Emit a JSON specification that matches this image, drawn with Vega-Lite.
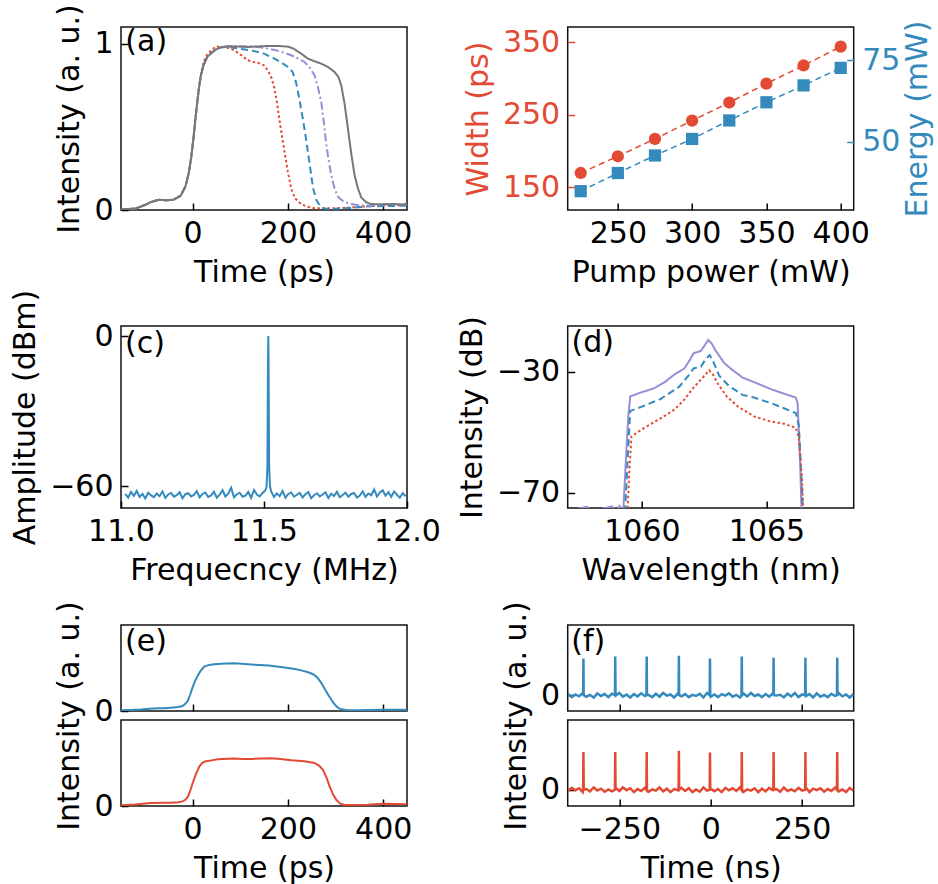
{
"$schema": "https://vega.github.io/schema/vega-lite/v6.json",
"background": "white",
"padding": {"left": 9, "top": 2, "right": 2, "bottom": 5},
"bounds": "flush",
"align": "each",
"columns": 2,
"spacing": {"row": 9, "column": 160.7},
"resolve": {"scale": {"color": "independent", "strokeDash": "independent"}},
"config": {
  "view": {"stroke": "#111", "strokeWidth": 1.5},
  "font": "DejaVu Sans",
  "axis": {"domain": false, "grid": false, "tickSize": -7, "tickWidth": 1.5, "tickColor": "#000", "labelPadding": 15, "labelFont": "DejaVu Sans", "labelFontSize": 30, "labelColor": "#000", "titleFont": "DejaVu Sans", "titleFontSize": 30, "titleFontWeight": "normal", "titleColor": "#000", "titlePadding": 9, "labelFlush": false, "labelOverlap": false},
  "text": {"font": "DejaVu Sans", "fontSize": 30, "color": "#000"}
},
"datasets": {
  "a": [
    {"t":-150,"v":0.005,"s":"r"},{"t":-120,"v":0.008,"s":"r"},{"t":-100,"v":0.03,"s":"r"},{"t":-85,"v":0.05,"s":"r"},{"t":-70,"v":0.062,"s":"r"},{"t":-55,"v":0.058,"s":"r"},{"t":-40,"v":0.062,"s":"r"},{"t":-25,"v":0.085,"s":"r"},{"t":-15,"v":0.14,"s":"r"},{"t":-8,"v":0.22,"s":"r"},{"t":-3,"v":0.31,"s":"r"},{"t":2,"v":0.43,"s":"r"},{"t":7,"v":0.57,"s":"r"},{"t":12,"v":0.7,"s":"r"},{"t":17,"v":0.8,"s":"r"},{"t":23,"v":0.89,"s":"r"},{"t":31,"v":0.935,"s":"r"},{"t":40,"v":0.96,"s":"r"},{"t":49,"v":0.984,"s":"r"},{"t":60,"v":0.98,"s":"r"},{"t":74,"v":0.975,"s":"r"},{"t":88,"v":0.96,"s":"r"},{"t":100,"v":0.935,"s":"r"},{"t":116,"v":0.9,"s":"r"},{"t":128,"v":0.89,"s":"r"},{"t":137,"v":0.885,"s":"r"},{"t":150,"v":0.87,"s":"r"},{"t":158,"v":0.84,"s":"r"},{"t":165,"v":0.8,"s":"r"},{"t":172,"v":0.73,"s":"r"},{"t":177,"v":0.65,"s":"r"},{"t":182,"v":0.55,"s":"r"},{"t":188,"v":0.44,"s":"r"},{"t":193,"v":0.35,"s":"r"},{"t":200,"v":0.23,"s":"r"},{"t":207,"v":0.13,"s":"r"},{"t":215,"v":0.07,"s":"r"},{"t":228,"v":0.036,"s":"r"},{"t":240,"v":0.02,"s":"r"},{"t":256,"v":0.01,"s":"r"},{"t":298,"v":0.01,"s":"r"},{"t":330,"v":0.015,"s":"r"},{"t":368,"v":0.022,"s":"r"},{"t":410,"v":0.028,"s":"r"},{"t":450,"v":0.03,"s":"r"},
    {"t":-150,"v":0.005,"s":"b"},{"t":-120,"v":0.008,"s":"b"},{"t":-100,"v":0.03,"s":"b"},{"t":-85,"v":0.05,"s":"b"},{"t":-70,"v":0.062,"s":"b"},{"t":-55,"v":0.058,"s":"b"},{"t":-40,"v":0.062,"s":"b"},{"t":-25,"v":0.085,"s":"b"},{"t":-15,"v":0.14,"s":"b"},{"t":-8,"v":0.22,"s":"b"},{"t":-3,"v":0.31,"s":"b"},{"t":2,"v":0.43,"s":"b"},{"t":7,"v":0.57,"s":"b"},{"t":12,"v":0.7,"s":"b"},{"t":17,"v":0.8,"s":"b"},{"t":23,"v":0.87,"s":"b"},{"t":31,"v":0.92,"s":"b"},{"t":40,"v":0.945,"s":"b"},{"t":49,"v":0.965,"s":"b"},{"t":60,"v":0.978,"s":"b"},{"t":74,"v":0.98,"s":"b"},{"t":88,"v":0.974,"s":"b"},{"t":110,"v":0.965,"s":"b"},{"t":130,"v":0.955,"s":"b"},{"t":150,"v":0.94,"s":"b"},{"t":172,"v":0.91,"s":"b"},{"t":190,"v":0.88,"s":"b"},{"t":200,"v":0.86,"s":"b"},{"t":210,"v":0.83,"s":"b"},{"t":217,"v":0.77,"s":"b"},{"t":222,"v":0.7,"s":"b"},{"t":227,"v":0.62,"s":"b"},{"t":232,"v":0.54,"s":"b"},{"t":237,"v":0.45,"s":"b"},{"t":242,"v":0.35,"s":"b"},{"t":248,"v":0.23,"s":"b"},{"t":253,"v":0.13,"s":"b"},{"t":260,"v":0.06,"s":"b"},{"t":267,"v":0.026,"s":"b"},{"t":275,"v":0.01,"s":"b"},{"t":284,"v":0.006,"s":"b"},{"t":333,"v":0.012,"s":"b"},{"t":368,"v":0.022,"s":"b"},{"t":410,"v":0.024,"s":"b"},{"t":450,"v":0.026,"s":"b"},
    {"t":-150,"v":0.005,"s":"p"},{"t":-120,"v":0.008,"s":"p"},{"t":-100,"v":0.03,"s":"p"},{"t":-85,"v":0.05,"s":"p"},{"t":-70,"v":0.062,"s":"p"},{"t":-55,"v":0.058,"s":"p"},{"t":-40,"v":0.062,"s":"p"},{"t":-25,"v":0.085,"s":"p"},{"t":-15,"v":0.14,"s":"p"},{"t":-8,"v":0.22,"s":"p"},{"t":-3,"v":0.31,"s":"p"},{"t":2,"v":0.43,"s":"p"},{"t":7,"v":0.57,"s":"p"},{"t":12,"v":0.7,"s":"p"},{"t":17,"v":0.8,"s":"p"},{"t":23,"v":0.87,"s":"p"},{"t":31,"v":0.92,"s":"p"},{"t":40,"v":0.945,"s":"p"},{"t":49,"v":0.965,"s":"p"},{"t":60,"v":0.978,"s":"p"},{"t":74,"v":0.984,"s":"p"},{"t":100,"v":0.984,"s":"p"},{"t":130,"v":0.982,"s":"p"},{"t":150,"v":0.975,"s":"p"},{"t":172,"v":0.962,"s":"p"},{"t":190,"v":0.948,"s":"p"},{"t":207,"v":0.93,"s":"p"},{"t":222,"v":0.91,"s":"p"},{"t":235,"v":0.89,"s":"p"},{"t":245,"v":0.86,"s":"p"},{"t":256,"v":0.81,"s":"p"},{"t":263,"v":0.74,"s":"p"},{"t":270,"v":0.65,"s":"p"},{"t":275,"v":0.54,"s":"p"},{"t":280,"v":0.41,"s":"p"},{"t":285,"v":0.31,"s":"p"},{"t":291,"v":0.21,"s":"p"},{"t":298,"v":0.13,"s":"p"},{"t":305,"v":0.08,"s":"p"},{"t":315,"v":0.055,"s":"p"},{"t":326,"v":0.04,"s":"p"},{"t":345,"v":0.03,"s":"p"},{"t":368,"v":0.026,"s":"p"},{"t":390,"v":0.03,"s":"p"},{"t":410,"v":0.036,"s":"p"},{"t":430,"v":0.033,"s":"p"},{"t":450,"v":0.03,"s":"p"},
    {"t":-150,"v":0.005,"s":"g"},{"t":-120,"v":0.008,"s":"g"},{"t":-100,"v":0.03,"s":"g"},{"t":-85,"v":0.05,"s":"g"},{"t":-70,"v":0.062,"s":"g"},{"t":-55,"v":0.058,"s":"g"},{"t":-40,"v":0.062,"s":"g"},{"t":-25,"v":0.085,"s":"g"},{"t":-15,"v":0.14,"s":"g"},{"t":-8,"v":0.22,"s":"g"},{"t":-3,"v":0.31,"s":"g"},{"t":2,"v":0.43,"s":"g"},{"t":7,"v":0.57,"s":"g"},{"t":12,"v":0.7,"s":"g"},{"t":17,"v":0.8,"s":"g"},{"t":23,"v":0.87,"s":"g"},{"t":31,"v":0.92,"s":"g"},{"t":40,"v":0.945,"s":"g"},{"t":49,"v":0.965,"s":"g"},{"t":60,"v":0.978,"s":"g"},{"t":74,"v":0.984,"s":"g"},{"t":95,"v":0.983,"s":"g"},{"t":116,"v":0.98,"s":"g"},{"t":135,"v":0.983,"s":"g"},{"t":158,"v":0.986,"s":"g"},{"t":180,"v":0.986,"s":"g"},{"t":200,"v":0.982,"s":"g"},{"t":212,"v":0.97,"s":"g"},{"t":228,"v":0.94,"s":"g"},{"t":242,"v":0.91,"s":"g"},{"t":256,"v":0.894,"s":"g"},{"t":270,"v":0.88,"s":"g"},{"t":284,"v":0.86,"s":"g"},{"t":298,"v":0.83,"s":"g"},{"t":306,"v":0.8,"s":"g"},{"t":312,"v":0.75,"s":"g"},{"t":319,"v":0.64,"s":"g"},{"t":326,"v":0.49,"s":"g"},{"t":333,"v":0.34,"s":"g"},{"t":340,"v":0.21,"s":"g"},{"t":347,"v":0.13,"s":"g"},{"t":354,"v":0.076,"s":"g"},{"t":365,"v":0.045,"s":"g"},{"t":375,"v":0.036,"s":"g"},{"t":390,"v":0.034,"s":"g"},{"t":403,"v":0.034,"s":"g"},{"t":424,"v":0.036,"s":"g"},{"t":440,"v":0.032,"s":"g"},{"t":450,"v":0.038,"s":"g"}
  ],
  "b": [
    {"p":225,"w":170,"e":34.7},{"p":250,"w":193,"e":40.3},{"p":275,"w":217,"e":45.7},{"p":300,"w":242,"e":50.8},{"p":325,"w":267,"e":56.5},{"p":350,"w":293,"e":62.1},{"p":375,"w":318,"e":67.3},{"p":400,"w":344,"e":72.7}
  ],
  "c": [
    {"f":11.015,"a":-63.0},{"f":11.025,"a":-64.5},{"f":11.035,"a":-62.2},{"f":11.045,"a":-63.8},{"f":11.055,"a":-61.8},{"f":11.065,"a":-64.2},{"f":11.075,"a":-63.0},{"f":11.085,"a":-64.8},{"f":11.095,"a":-62.5},{"f":11.105,"a":-63.6},
    {"f":11.115,"a":-64.3},{"f":11.125,"a":-62.8},{"f":11.135,"a":-63.9},{"f":11.145,"a":-62.0},{"f":11.155,"a":-64.6},{"f":11.165,"a":-63.2},{"f":11.175,"a":-62.6},{"f":11.185,"a":-64.1},{"f":11.195,"a":-63.5},{"f":11.205,"a":-62.3},
    {"f":11.215,"a":-64.7},{"f":11.225,"a":-63.1},{"f":11.235,"a":-62.7},{"f":11.245,"a":-64.0},{"f":11.255,"a":-63.4},{"f":11.265,"a":-61.9},{"f":11.275,"a":-64.4},{"f":11.285,"a":-63.0},{"f":11.295,"a":-62.4},{"f":11.305,"a":-64.2},
    {"f":11.315,"a":-63.6},{"f":11.325,"a":-62.1},{"f":11.335,"a":-64.5},{"f":11.345,"a":-63.3},{"f":11.355,"a":-61.5},{"f":11.365,"a":-64.0},{"f":11.375,"a":-62.9},{"f":11.385,"a":-60.5},{"f":11.395,"a":-64.3},{"f":11.405,"a":-63.1},
    {"f":11.415,"a":-62.5},{"f":11.425,"a":-64.1},{"f":11.435,"a":-63.7},{"f":11.445,"a":-62.2},{"f":11.455,"a":-64.6},{"f":11.465,"a":-61.4},{"f":11.475,"a":-63.2},{"f":11.485,"a":-64.0},{"f":11.495,"a":-62.6},{"f":11.505,"a":-61.5},
    {"f":11.509,"a":-60.0},{"f":11.512,"a":-52},{"f":11.514,"a":-10},{"f":11.515,"a":0},{"f":11.516,"a":-10},{"f":11.518,"a":-52},{"f":11.521,"a":-60},
    {"f":11.525,"a":-62.0},{"f":11.535,"a":-64.2},{"f":11.545,"a":-62.8},{"f":11.555,"a":-63.9},{"f":11.565,"a":-61.8},{"f":11.575,"a":-64.5},{"f":11.585,"a":-63.0},{"f":11.595,"a":-62.4},{"f":11.605,"a":-64.1},{"f":11.615,"a":-63.3},
    {"f":11.625,"a":-62.6},{"f":11.635,"a":-64.4},{"f":11.645,"a":-63.1},{"f":11.655,"a":-62.2},{"f":11.665,"a":-64.7},{"f":11.675,"a":-63.5},{"f":11.685,"a":-62.7},{"f":11.695,"a":-64.0},{"f":11.705,"a":-63.2},{"f":11.715,"a":-62.3},
    {"f":11.725,"a":-64.6},{"f":11.735,"a":-62.9},{"f":11.745,"a":-63.8},{"f":11.755,"a":-62.1},{"f":11.765,"a":-64.3},{"f":11.775,"a":-63.4},{"f":11.785,"a":-62.5},{"f":11.795,"a":-64.1},{"f":11.805,"a":-63.0},{"f":11.815,"a":-62.6},
    {"f":11.825,"a":-64.4},{"f":11.835,"a":-63.6},{"f":11.845,"a":-62.0},{"f":11.855,"a":-64.2},{"f":11.865,"a":-62.8},{"f":11.875,"a":-63.5},{"f":11.885,"a":-61.2},{"f":11.895,"a":-64.0},{"f":11.905,"a":-62.4},{"f":11.915,"a":-61.5},
    {"f":11.925,"a":-63.7},{"f":11.935,"a":-62.3},{"f":11.945,"a":-64.1},{"f":11.955,"a":-62.0},{"f":11.965,"a":-63.3},{"f":11.975,"a":-64.5},{"f":11.985,"a":-62.7},{"f":11.995,"a":-63.9}
  ],
  "d": [
    {"w":1057.0,"i":-76,"s":"p"},{"w":1057.8,"i":-74.6,"s":"p"},{"w":1058.0,"i":-76,"s":"p"},{"w":1058.8,"i":-74.5,"s":"p"},{"w":1059.0,"i":-76,"s":"p"},{"w":1059.1,"i":-74.3,"s":"p"},{"w":1059.25,"i":-76,"s":"p"},{"w":1059.35,"i":-60,"s":"p"},{"w":1059.45,"i":-45,"s":"p"},{"w":1059.53,"i":-38.2,"s":"p"},{"w":1060.0,"i":-36.8,"s":"p"},{"w":1060.5,"i":-35.5,"s":"p"},{"w":1060.9,"i":-33.6,"s":"p"},{"w":1061.3,"i":-31.0,"s":"p"},{"w":1061.7,"i":-29.0,"s":"p"},{"w":1061.9,"i":-26.5,"s":"p"},{"w":1062.07,"i":-24.0,"s":"p"},{"w":1062.37,"i":-23.2,"s":"p"},{"w":1062.55,"i":-21.0,"s":"p"},{"w":1062.66,"i":-19.6,"s":"p"},{"w":1062.8,"i":-20.8,"s":"p"},{"w":1062.95,"i":-23.0,"s":"p"},{"w":1063.3,"i":-27.2,"s":"p"},{"w":1063.6,"i":-29.3,"s":"p"},{"w":1064.04,"i":-32.0,"s":"p"},{"w":1064.5,"i":-33.5,"s":"p"},{"w":1065.17,"i":-35.8,"s":"p"},{"w":1065.7,"i":-37.3,"s":"p"},{"w":1066.18,"i":-38.6,"s":"p"},{"w":1066.25,"i":-40.5,"s":"p"},{"w":1066.35,"i":-60,"s":"p"},{"w":1066.42,"i":-80,"s":"p"},
    {"w":1059.3,"i":-80,"s":"b"},{"w":1059.42,"i":-60,"s":"b"},{"w":1059.53,"i":-43.0,"s":"b"},{"w":1060.0,"i":-41.6,"s":"b"},{"w":1060.76,"i":-39.0,"s":"b"},{"w":1061.5,"i":-35.0,"s":"b"},{"w":1061.9,"i":-31.0,"s":"b"},{"w":1062.07,"i":-29.0,"s":"b"},{"w":1062.37,"i":-28.4,"s":"b"},{"w":1062.55,"i":-26.0,"s":"b"},{"w":1062.72,"i":-24.6,"s":"b"},{"w":1062.85,"i":-26.5,"s":"b"},{"w":1063.1,"i":-31.4,"s":"b"},{"w":1063.5,"i":-34.8,"s":"b"},{"w":1064.04,"i":-37.7,"s":"b"},{"w":1064.5,"i":-38.6,"s":"b"},{"w":1065.17,"i":-40.4,"s":"b"},{"w":1065.7,"i":-42.1,"s":"b"},{"w":1066.18,"i":-43.7,"s":"b"},{"w":1066.3,"i":-48,"s":"b"},{"w":1066.4,"i":-65,"s":"b"},{"w":1066.48,"i":-80,"s":"b"},
    {"w":1059.4,"i":-80,"s":"r"},{"w":1059.5,"i":-62,"s":"r"},{"w":1059.58,"i":-51.4,"s":"r"},{"w":1060.09,"i":-48.6,"s":"r"},{"w":1060.76,"i":-45.4,"s":"r"},{"w":1061.3,"i":-42.6,"s":"r"},{"w":1061.7,"i":-39.3,"s":"r"},{"w":1062.0,"i":-36.0,"s":"r"},{"w":1062.24,"i":-33.8,"s":"r"},{"w":1062.5,"i":-31.5,"s":"r"},{"w":1062.7,"i":-29.6,"s":"r"},{"w":1062.85,"i":-31.0,"s":"r"},{"w":1063.03,"i":-33.8,"s":"r"},{"w":1063.4,"i":-38.2,"s":"r"},{"w":1063.84,"i":-41.5,"s":"r"},{"w":1064.5,"i":-44.8,"s":"r"},{"w":1065.17,"i":-46.5,"s":"r"},{"w":1065.7,"i":-47.2,"s":"r"},{"w":1066.18,"i":-48.6,"s":"r"},{"w":1066.3,"i":-52,"s":"r"},{"w":1066.42,"i":-65,"s":"r"},{"w":1066.5,"i":-80,"s":"r"}
  ],
  "e1": [
    {"t":-150,"v":0.014},{"t":-130,"v":0.02},{"t":-108,"v":0.03},{"t":-90,"v":0.045},{"t":-73,"v":0.056},{"t":-60,"v":0.058},{"t":-45,"v":0.07},{"t":-30,"v":0.085},{"t":-21,"v":0.105},{"t":-15,"v":0.15},{"t":-10,"v":0.21},{"t":-5,"v":0.34},{"t":0,"v":0.49},{"t":5,"v":0.62},{"t":10.5,"v":0.73},{"t":17,"v":0.84},{"t":24.6,"v":0.93},{"t":35,"v":0.965},{"t":45.6,"v":0.98},{"t":60,"v":0.99},{"t":87.7,"v":1.0},{"t":110,"v":0.985},{"t":130,"v":0.97},{"t":160,"v":0.95},{"t":193,"v":0.91},{"t":215,"v":0.88},{"t":228,"v":0.85},{"t":243,"v":0.81},{"t":253,"v":0.77},{"t":262,"v":0.7},{"t":270,"v":0.59},{"t":277,"v":0.47},{"t":284,"v":0.35},{"t":291,"v":0.24},{"t":298,"v":0.14},{"t":305,"v":0.07},{"t":312,"v":0.035},{"t":326,"v":0.014},{"t":345,"v":0.016},{"t":368,"v":0.02},{"t":400,"v":0.024},{"t":430,"v":0.026},{"t":450,"v":0.028}
  ],
  "e2": [
    {"t":-150,"v":0.014},{"t":-120,"v":0.03},{"t":-88,"v":0.062},{"t":-60,"v":0.066},{"t":-45,"v":0.069},{"t":-30,"v":0.08},{"t":-21,"v":0.097},{"t":-15,"v":0.13},{"t":-10,"v":0.19},{"t":-5,"v":0.31},{"t":0,"v":0.47},{"t":7,"v":0.66},{"t":14,"v":0.82},{"t":20,"v":0.9},{"t":26,"v":0.93},{"t":40,"v":0.955},{"t":52.6,"v":0.976},{"t":87.7,"v":0.995},{"t":105,"v":0.985},{"t":122.8,"v":0.983},{"t":145,"v":0.995},{"t":165,"v":1.0},{"t":185,"v":0.985},{"t":207,"v":0.96},{"t":235,"v":0.935},{"t":256,"v":0.9},{"t":266,"v":0.84},{"t":274,"v":0.75},{"t":281,"v":0.6},{"t":288,"v":0.4},{"t":295,"v":0.24},{"t":302,"v":0.125},{"t":310,"v":0.05},{"t":319,"v":0.02},{"t":340,"v":0.022},{"t":368,"v":0.028},{"t":390,"v":0.04},{"t":403,"v":0.048},{"t":425,"v":0.04},{"t":450,"v":0.035}
  ],
  "f1": [
    {"t":-390,"v":0.04},{"t":-380,"v":-0.05},{"t":-370,"v":0.02},{"t":-360,"v":-0.03},{"t":-350,"v":0.06},{"t":-340,"v":-0.04},{"t":-330,"v":0.01},{"t":-320,"v":-0.06},{"t":-310,"v":0.05},{"t":-300,"v":-0.02},
    {"t":-290,"v":0.03},{"t":-280,"v":-0.05},{"t":-270,"v":0.04},{"t":-260,"v":-0.01},{"t":-250,"v":0.06},{"t":-240,"v":-0.04},{"t":-230,"v":0.02},{"t":-220,"v":-0.06},{"t":-210,"v":0.03},{"t":-200,"v":-0.03},
    {"t":-190,"v":0.05},{"t":-180,"v":-0.02},{"t":-170,"v":0.01},{"t":-160,"v":-0.05},{"t":-150,"v":0.04},{"t":-140,"v":-0.04},{"t":-130,"v":0.06},{"t":-120,"v":-0.01},{"t":-110,"v":0.02},{"t":-100,"v":-0.06},
    {"t":-90,"v":0.05},{"t":-80,"v":-0.03},{"t":-70,"v":0.03},{"t":-60,"v":-0.05},{"t":-50,"v":0.01},{"t":-40,"v":-0.02},{"t":-30,"v":0.04},{"t":-20,"v":-0.06},{"t":-10,"v":0.06},{"t":0,"v":-0.04},
    {"t":10,"v":0.02},{"t":20,"v":-0.05},{"t":30,"v":0.03},{"t":40,"v":-0.01},{"t":50,"v":0.05},{"t":60,"v":-0.04},{"t":70,"v":0.01},{"t":80,"v":-0.06},{"t":90,"v":0.04},{"t":100,"v":-0.03},
    {"t":110,"v":0.06},{"t":120,"v":-0.02},{"t":130,"v":0.02},{"t":140,"v":-0.05},{"t":150,"v":0.03},{"t":160,"v":-0.04},{"t":170,"v":0.05},{"t":180,"v":-0.01},{"t":190,"v":0.01},{"t":200,"v":-0.06},
    {"t":210,"v":0.04},{"t":220,"v":-0.03},{"t":230,"v":0.06},{"t":240,"v":-0.05},{"t":250,"v":0.02},{"t":260,"v":-0.02},{"t":270,"v":0.03},{"t":280,"v":-0.06},{"t":290,"v":0.05},{"t":300,"v":-0.04},
    {"t":310,"v":0.01},{"t":320,"v":-0.05},{"t":330,"v":0.04},{"t":340,"v":-0.02},{"t":350,"v":0.06},{"t":360,"v":-0.03},{"t":370,"v":0.02},{"t":380,"v":-0.06},{"t":390,"v":0.03},
    {"t":-348.8,"v":0},{"t":-348,"v":0.98},{"t":-347.2,"v":0},{"t":-261.8,"v":0},{"t":-261,"v":1.03},{"t":-260.2,"v":0},{"t":-175.8,"v":0},{"t":-175,"v":1.03},{"t":-174.2,"v":0},{"t":-87.8,"v":0},{"t":-87,"v":1.05},{"t":-86.2,"v":0},{"t":-2.8,"v":0},{"t":-2,"v":0.98},{"t":-1.2,"v":0},{"t":84.2,"v":0},{"t":85,"v":1.03},{"t":85.8,"v":0},{"t":171.2,"v":0},{"t":172,"v":1.0},{"t":172.8,"v":0},{"t":258.2,"v":0},{"t":259,"v":1.0},{"t":259.8,"v":0},{"t":345.2,"v":0},{"t":346,"v":1.0},{"t":346.8,"v":0}
  ],
  "f2": [
    {"t":-390,"v":-0.03},{"t":-380,"v":0.05},{"t":-370,"v":-0.01},{"t":-360,"v":0.04},{"t":-350,"v":-0.06},{"t":-340,"v":0.02},{"t":-330,"v":-0.04},{"t":-320,"v":0.06},{"t":-310,"v":-0.02},{"t":-300,"v":0.03},
    {"t":-290,"v":-0.05},{"t":-280,"v":0.01},{"t":-270,"v":-0.04},{"t":-260,"v":0.05},{"t":-250,"v":-0.03},{"t":-240,"v":0.06},{"t":-230,"v":-0.01},{"t":-220,"v":0.04},{"t":-210,"v":-0.06},{"t":-200,"v":0.02},
    {"t":-190,"v":-0.03},{"t":-180,"v":0.05},{"t":-170,"v":-0.05},{"t":-160,"v":0.01},{"t":-150,"v":-0.02},{"t":-140,"v":0.06},{"t":-130,"v":-0.04},{"t":-120,"v":0.03},{"t":-110,"v":-0.06},{"t":-100,"v":0.02},
    {"t":-90,"v":-0.01},{"t":-80,"v":0.05},{"t":-70,"v":-0.03},{"t":-60,"v":0.04},{"t":-50,"v":-0.06},{"t":-40,"v":0.01},{"t":-30,"v":-0.05},{"t":-20,"v":0.06},{"t":-10,"v":-0.02},{"t":0,"v":0.03},
    {"t":10,"v":-0.04},{"t":20,"v":0.02},{"t":30,"v":-0.06},{"t":40,"v":0.05},{"t":50,"v":-0.01},{"t":60,"v":0.04},{"t":70,"v":-0.03},{"t":80,"v":0.06},{"t":90,"v":-0.05},{"t":100,"v":0.01},
    {"t":110,"v":-0.02},{"t":120,"v":0.04},{"t":130,"v":-0.06},{"t":140,"v":0.03},{"t":150,"v":-0.04},{"t":160,"v":0.05},{"t":170,"v":-0.01},{"t":180,"v":0.02},{"t":190,"v":-0.05},{"t":200,"v":0.06},
    {"t":210,"v":-0.03},{"t":220,"v":0.01},{"t":230,"v":-0.04},{"t":240,"v":0.05},{"t":250,"v":-0.02},{"t":260,"v":0.06},{"t":270,"v":-0.06},{"t":280,"v":0.03},{"t":290,"v":-0.01},{"t":300,"v":0.04},
    {"t":310,"v":-0.05},{"t":320,"v":0.02},{"t":330,"v":-0.03},{"t":340,"v":0.06},{"t":350,"v":-0.04},{"t":360,"v":0.01},{"t":370,"v":-0.06},{"t":380,"v":0.05},{"t":390,"v":-0.02},
    {"t":-348.8,"v":0},{"t":-348,"v":0.98},{"t":-347.2,"v":0},{"t":-261.8,"v":0},{"t":-261,"v":0.98},{"t":-260.2,"v":0},{"t":-175.8,"v":0},{"t":-175,"v":0.98},{"t":-174.2,"v":0},{"t":-87.8,"v":0},{"t":-87,"v":1.01},{"t":-86.2,"v":0},{"t":-2.8,"v":0},{"t":-2,"v":0.97},{"t":-1.2,"v":0},{"t":84.2,"v":0},{"t":85,"v":0.98},{"t":85.8,"v":0},{"t":171.2,"v":0},{"t":172,"v":0.98},{"t":172.8,"v":0},{"t":258.2,"v":0},{"t":259,"v":0.98},{"t":259.8,"v":0},{"t":345.2,"v":0},{"t":346,"v":0.98},{"t":346.8,"v":0}
  ]
},
"concat": [
  {
    "width": 286, "height": 183,
    "layer": [
      {"data": {"name": "a"}, "mark": {"type": "line", "strokeWidth": 2, "clip": true},
       "encoding": {
         "x": {"field": "t", "type": "quantitative", "scale": {"domain": [-150, 450], "nice": false, "zero": false}, "axis": {"values": [0, 200, 400], "title": "Time (ps)"}},
         "y": {"field": "v", "type": "quantitative", "scale": {"domain": [0, 1.1], "nice": false, "zero": false}, "axis": {"values": [0, 1], "format": "d", "title": "Intensity (a. u.)"}},
         "color": {"field": "s", "type": "nominal", "scale": {"domain": ["r", "b", "p", "g"], "range": ["#E24A33", "#348ABD", "#988ED5", "#777777"]}, "legend": null},
         "strokeDash": {"field": "s", "type": "nominal", "scale": {"domain": ["r", "b", "p", "g"], "range": [[2.5, 2.5], [7, 4], [8, 3, 2, 3], [1, 0]]}, "legend": null}
       }},
      {"data": {"values": [{"label": "(a)"}]}, "mark": {"type": "text", "align": "left", "baseline": "alphabetic"},
       "encoding": {"x": {"datum": -141}, "y": {"datum": 0.953}, "text": {"field": "label"}}}
    ]
  },
  {
    "width": 286, "height": 183,
    "data": {"name": "b"},
    "encoding": {"x": {"field": "p", "type": "quantitative", "scale": {"domain": [216.25, 408.75], "nice": false, "zero": false}, "axis": {"values": [250, 300, 350, 400], "title": "Pump power (mW)"}}},
    "layer": [
      {"layer": [
         {"mark": {"type": "line", "color": "#E24A33", "strokeWidth": 1.5, "strokeDash": [6, 4]}},
         {"mark": {"type": "point", "shape": "circle", "filled": true, "opacity": 1, "size": 150, "color": "#E24A33"}},
         {"data": {"values": [{"label": "(b)"}]}, "mark": {"type": "text", "align": "left", "baseline": "alphabetic"},
          "encoding": {"x": {"datum": 218.7}, "y": {"datum": 336.8}, "text": {"field": "label"}}}
       ],
       "encoding": {"y": {"field": "w", "type": "quantitative", "scale": {"domain": [119, 371], "nice": false, "zero": false}, "axis": {"orient": "left", "values": [150, 250, 350], "title": "Width (ps)", "labelColor": "#E24A33", "titleColor": "#E24A33", "tickColor": "#E24A33"}}}},
      {"layer": [
         {"mark": {"type": "line", "color": "#348ABD", "strokeWidth": 1.5, "strokeDash": [6, 4]}},
         {"mark": {"type": "point", "shape": "square", "filled": true, "opacity": 1, "size": 150, "color": "#348ABD"}}
       ],
       "encoding": {"y": {"field": "e", "type": "quantitative", "scale": {"domain": [28.9, 85.3], "nice": false, "zero": false}, "axis": {"orient": "right", "values": [50, 75], "title": "Energy (mW)", "labelColor": "#348ABD", "titleColor": "#348ABD", "tickColor": "#348ABD", "titleAngle": 270, "titleBaseline": "top", "titlePadding": 3}}}}
    ],
    "resolve": {"scale": {"y": "independent"}}
  },
  {"width": 286, "height": 98, "data": {"values": [{}]}, "mark": {"type": "text", "text": ""}, "encoding": {}, "view": {"stroke": null}},
  {"width": 286, "height": 98, "data": {"values": [{}]}, "mark": {"type": "text", "text": ""}, "encoding": {}, "view": {"stroke": null}},
  {
    "width": 286, "height": 182,
    "layer": [
      {"data": {"name": "c"}, "mark": {"type": "line", "color": "#348ABD", "strokeWidth": 2, "clip": true},
       "encoding": {
         "x": {"field": "f", "type": "quantitative", "scale": {"domain": [11, 12], "nice": false, "zero": false}, "axis": {"values": [11, 11.5, 12], "format": ".1f", "title": "Frequecncy (MHz)"}},
         "y": {"field": "a", "type": "quantitative", "scale": {"domain": [-68.6, 4], "nice": false, "zero": false}, "axis": {"values": [-60, 0], "format": "d", "title": "Amplitude (dBm)"}}
       }},
      {"data": {"values": [{"label": "(c)"}]}, "mark": {"type": "text", "align": "left", "baseline": "alphabetic"},
       "encoding": {"x": {"datum": 11.014}, "y": {"datum": -6.85}, "text": {"field": "label"}}}
    ]
  },
  {
    "width": 286, "height": 182,
    "layer": [
      {"data": {"name": "d"}, "mark": {"type": "line", "strokeWidth": 2, "clip": true},
       "encoding": {
         "x": {"field": "w", "type": "quantitative", "scale": {"domain": [1057.02, 1068.5], "nice": false, "zero": false}, "axis": {"values": [1060, 1065], "format": "d", "title": "Wavelength (nm)"}},
         "y": {"field": "i", "type": "quantitative", "scale": {"domain": [-75, -15], "nice": false, "zero": false}, "axis": {"values": [-70, -30], "format": "d", "title": "Intensity (dB)"}},
         "color": {"field": "s", "type": "nominal", "scale": {"domain": ["p", "b", "r"], "range": ["#988ED5", "#348ABD", "#E24A33"]}, "legend": null},
         "strokeDash": {"field": "s", "type": "nominal", "scale": {"domain": ["p", "b", "r"], "range": [[1, 0], [7, 4], [2.5, 2.5]]}, "legend": null}
       }},
      {"data": {"values": [{"label": "(d)"}]}, "mark": {"type": "text", "align": "left", "baseline": "alphabetic"},
       "encoding": {"x": {"datum": 1057.17}, "y": {"datum": -23.6}, "text": {"field": "label"}}}
    ]
  },
  {"width": 286, "height": 99, "data": {"values": [{}]}, "mark": {"type": "text", "text": ""}, "encoding": {}, "view": {"stroke": null}},
  {"width": 286, "height": 99, "data": {"values": [{}]}, "mark": {"type": "text", "text": ""}, "encoding": {}, "view": {"stroke": null}},
  {
    "width": 286, "height": 86,
    "layer": [
      {"data": {"name": "e1"}, "mark": {"type": "line", "color": "#348ABD", "strokeWidth": 2, "clip": true},
       "encoding": {
         "x": {"field": "t", "type": "quantitative", "scale": {"domain": [-150, 450], "nice": false, "zero": false}, "axis": {"values": [0, 200, 400], "labels": false, "title": null}},
         "y": {"field": "v", "type": "quantitative", "scale": {"domain": [0, 1.8], "nice": false, "zero": false}, "axis": {"values": [0], "format": "d", "title": "Intensity (a. u.)", "titleY": 90.5}}
       }},
      {"data": {"values": [{"label": "(e)"}]}, "mark": {"type": "text", "align": "left", "baseline": "alphabetic"},
       "encoding": {"x": {"datum": -141.5}, "y": {"datum": 1.256}, "text": {"field": "label"}}}
    ]
  },
  {
    "width": 286, "height": 86,
    "layer": [
      {"data": {"name": "f1"}, "mark": {"type": "line", "color": "#348ABD", "strokeWidth": 2.5, "clip": true},
       "encoding": {
         "x": {"field": "t", "type": "quantitative", "scale": {"domain": [-391, 391], "nice": false, "zero": false}, "axis": {"values": [-250, 0, 250], "labels": false, "title": null}},
         "y": {"field": "v", "type": "quantitative", "scale": {"domain": [-0.42, 1.87], "nice": false, "zero": false}, "axis": {"values": [0], "format": "d", "title": "Intensity (a. u.)", "titleY": 90.5}}
       }},
      {"data": {"values": [{"label": "(f)"}]}, "mark": {"type": "text", "align": "left", "baseline": "alphabetic"},
       "encoding": {"x": {"datum": -381}, "y": {"datum": 1.175}, "text": {"field": "label"}}}
    ]
  },
  {
    "width": 286, "height": 86,
    "data": {"name": "e2"},
    "mark": {"type": "line", "color": "#E24A33", "strokeWidth": 2, "clip": true},
    "encoding": {
      "x": {"field": "t", "type": "quantitative", "scale": {"domain": [-150, 450], "nice": false, "zero": false}, "axis": {"values": [0, 200, 400], "title": "Time (ps)"}},
      "y": {"field": "v", "type": "quantitative", "scale": {"domain": [0, 1.8], "nice": false, "zero": false}, "axis": {"values": [0], "format": "d", "title": null}}
    }
  },
  {
    "width": 286, "height": 86,
    "data": {"name": "f2"},
    "mark": {"type": "line", "color": "#E24A33", "strokeWidth": 2.5, "clip": true},
    "encoding": {
      "x": {"field": "t", "type": "quantitative", "scale": {"domain": [-391, 391], "nice": false, "zero": false}, "axis": {"values": [-250, 0, 250], "title": "Time (ns)"}},
      "y": {"field": "v", "type": "quantitative", "scale": {"domain": [-0.42, 1.81], "nice": false, "zero": false}, "axis": {"values": [0], "format": "d", "title": null}}
    }
  }
]
}
